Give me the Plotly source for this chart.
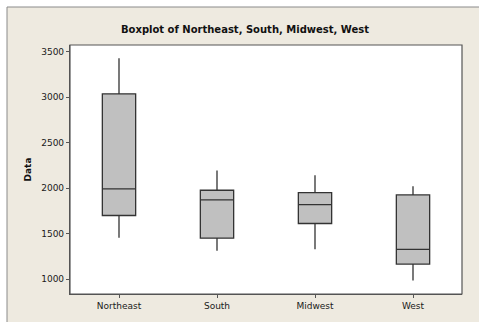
import plotly.graph_objects as go

categories = ["Northeast", "South", "Midwest", "West"]
lower_whisker = [1457, 1314, 1329, 986]
q1_values = [1701, 1452, 1613, 1168]
median_values = [1993, 1873, 1821, 1329]
q3_values = [3037, 1978, 1953, 1927]
upper_whisker = [3428, 2194, 2142, 2022]
y_ticks = [1000, 1500, 2000, 2500, 3000, 3500]

BEIGE = "#EEEAE0"
FONT = "DejaVu Sans"

fig = go.Figure()
fig.add_trace(go.Box(
    x=categories,
    q1=q1_values,
    median=median_values,
    q3=q3_values,
    lowerfence=lower_whisker,
    upperfence=upper_whisker,
    width=0.34,
    whiskerwidth=0,
    fillcolor="#C0C0C0",
    line=dict(color="#333333", width=1.3),
    boxpoints=False,
    hoverinfo="skip",
))

W, H = 479, 322
L, R, T, B = 70, 17, 45, 28
pw, ph = W - L - R, H - T - B

def px_x(p):
    return (p - L) / pw

def px_y(p):
    return (H - B - p) / ph

# white strips on top and left, with grey border line of the outer panel
fig.add_shape(type="rect", xref="paper", yref="paper",
              x0=px_x(-5), x1=px_x(W + 5), y0=px_y(7), y1=px_y(-5),
              fillcolor="white", line=dict(width=0), layer="below")
fig.add_shape(type="rect", xref="paper", yref="paper",
              x0=px_x(-5), x1=px_x(7), y0=px_y(H + 5), y1=px_y(-5),
              fillcolor="white", line=dict(width=0), layer="below")
fig.add_shape(type="line", xref="paper", yref="paper",
              x0=px_x(7), x1=px_x(W + 5), y0=px_y(7), y1=px_y(7),
              line=dict(color="#8a8a8a", width=1), layer="below")
fig.add_shape(type="line", xref="paper", yref="paper",
              x0=px_x(7), x1=px_x(7), y0=px_y(7), y1=px_y(H + 5),
              line=dict(color="#8a8a8a", width=1), layer="below")

fig.update_layout(
    width=W, height=H,
    margin=dict(l=L, r=R, t=T, b=B),
    paper_bgcolor=BEIGE,
    plot_bgcolor="white",
    showlegend=False,
    font=dict(family=FONT, size=9, color="#1a1a1a"),
    title=dict(text="<b>Boxplot of Northeast, South, Midwest, West</b>",
               x=245 / W, xanchor="center", y=1 - 29 / H, yanchor="middle",
               font=dict(family=FONT, size=10, color="#111111")),
    xaxis=dict(range=[-0.5, 3.5], showgrid=False, zeroline=False,
               showline=True, linecolor="#555555", linewidth=1.2, mirror=False,
               ticks="outside", ticklen=3, tickcolor="#555555",
               tickfont=dict(family=FONT, size=9, color="#1a1a1a")),
    yaxis=dict(range=[839, 3573], tickvals=y_ticks, showgrid=False, zeroline=False,
               showline=True, linecolor="#555555", linewidth=1.2,
               ticks="outside", ticklen=3, tickcolor="#555555",
               tickfont=dict(family=FONT, size=9, color="#1a1a1a"),
               title=dict(text="<b>Data</b>", standoff=8,
                          font=dict(family=FONT, size=9, color="#111111"))),
)

# frame lines on top and right of plot area
fig.add_shape(type="rect", xref="paper", yref="paper", x0=0, x1=1, y0=0, y1=1,
              line=dict(color="#555555", width=1.2), fillcolor="rgba(0,0,0,0)", layer="above")

fig.write_html("out.html")
